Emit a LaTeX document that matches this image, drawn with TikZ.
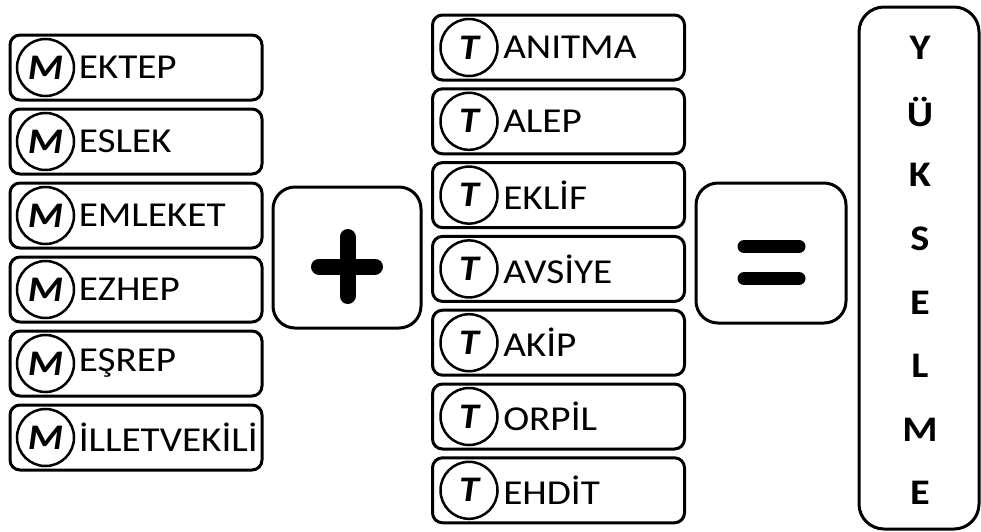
\documentclass[tikz,border=0pt]{standalone}
\usepackage{fontspec}
\setmainfont{Carlito}
\newfontfamily\wordfont[FakeStretch=1.12]{Carlito}
\usetikzlibrary{positioning}

\begin{document}
\begin{tikzpicture}[x=1pt,y=-1pt,node distance=74pt,on grid,line width=3pt]
    \tikzstyle{wordbox}=[shape=rectangle,draw,rounded corners=10pt,minimum width=252pt,minimum height=65pt]
    \tikzstyle{initial}=[shape=circle,draw,line width=2.5pt,minimum size=57pt,inner sep=0pt,font=\wordfont\fontsize{36}{40}\selectfont\bfseries\itshape]
    \tikzstyle{word}=[anchor=west,inner sep=0pt,font=\wordfont\fontsize{35}{40}\selectfont]
    \tikzstyle{opbox}=[shape=rectangle,draw,rounded corners=22pt,minimum width=148pt,minimum height=141pt]
    \tikzstyle{bar}=[line width=16pt,line cap=round]
    \tikzstyle{letter}=[font=\wordfont\fontsize{36}{40}\selectfont\bfseries]

    \useasboundingbox (0,0) rectangle (981,531);

    % M column
    \node[wordbox] (M1) at (136,67.5) {};
    \node[wordbox,below of=M1] (M2) {};
    \node[wordbox,below of=M2] (M3) {};
    \node[wordbox,below of=M3] (M4) {};
    \node[wordbox,below of=M4] (M5) {};
    \node[wordbox,below of=M5] (M6) {};
    \foreach \n/\w in {1/EKTEP,2/ESLEK,3/EMLEKET,4/EZHEP,5/EŞREP,6/İLLETVEKİLİ} {
        \node[initial] (cM\n) at ([xshift=37pt]M\n.west) {M};
        \node[word] (wM\n) at ([xshift=2pt]cM\n.east) {\w};
    }

    % T column
    \node[wordbox,node distance=73.8pt] (T1) at (558.5,47.5) {};
    \node[wordbox,node distance=73.8pt,below of=T1] (T2) {};
    \node[wordbox,node distance=73.8pt,below of=T2] (T3) {};
    \node[wordbox,node distance=73.8pt,below of=T3] (T4) {};
    \node[wordbox,node distance=73.8pt,below of=T4] (T5) {};
    \node[wordbox,node distance=73.8pt,below of=T5] (T6) {};
    \node[wordbox,node distance=73.8pt,below of=T6] (T7) {};
    \foreach \n/\w in {1/ANITMA,2/ALEP,3/EKLİF,4/AVSİYE,5/AKİP,6/ORPİL,7/EHDİT} {
        \node[initial] (cT\n) at ([xshift=38pt]T\n.west) {T};
        \node[word] (wT\n) at ([xshift=3pt]cT\n.east) {\w};
    }

    % plus and equals
    \node[opbox] (plus) at (347,257.5) {};
    \coordinate (pL) at (319,266.5);
    \coordinate (pR) at (375,266.5);
    \coordinate (pT) at (347.5,237);
    \coordinate (pB) at (347.5,296);
    \draw[bar] (pL) -- (pR);
    \draw[bar] (pT) -- (pB);

    \node[opbox,minimum width=150pt,minimum height=140pt] (eq) at (771,253) {};
    \coordinate (e1L) at (744,246.5);
    \coordinate (e1R) at (799,246.5);
    \coordinate (e2L) at (744,278.5);
    \coordinate (e2R) at (799,278.5);
    \draw[line width=13pt,line cap=round] (e1L) -- (e1R);
    \draw[line width=13pt,line cap=round] (e2L) -- (e2R);

    % result
    \node[shape=rectangle,draw,rounded corners=25pt,minimum width=120pt,minimum height=522pt] (res) at (919,268) {};
    \foreach \l [count=\i] in {Y,Ü,K,S,E,L,M,E}
        \node[letter] (r\i) at (920,{48+63.6*(\i-1)}) {\l};
\end{tikzpicture}
\end{document}
